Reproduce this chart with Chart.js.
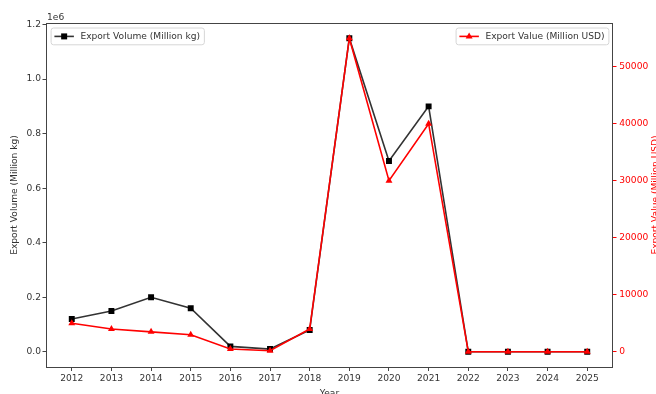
<!DOCTYPE html>
<html>
<head>
<meta charset="utf-8">
<script src="https://cdn.jsdelivr.net/npm/chart.js@4/dist/chart.umd.min.js"></script>
<style>
  html, body { margin: 0; padding: 0; background: #fff; }
  #wrap { width: 656px; height: 394px; }
</style>
</head>
<body>
<div id="wrap"><canvas id="chart" width="656" height="394"></canvas></div>
<script>
// Yearly export figures
const years = [2012, 2013, 2014, 2015, 2016, 2017, 2018, 2019, 2020, 2021, 2022, 2023, 2024, 2025];
const exportVolume = [120000, 150000, 200000, 160000, 20000, 10000, 80000, 1150000, 700000, 900000, 0, 0, 0, 0]; // million kg
const exportValue = [5000, 4000, 3500, 3000, 500, 200, 4000, 55000, 30000, 40000, 0, 0, 0, 0]; // million USD

// Axis tick values
const volumeTicks = [0, 200000, 400000, 600000, 800000, 1000000, 1200000];
const valueTicks = [0, 10000, 20000, 30000, 40000, 50000];

const volumeLabel = 'Export Volume (Million kg)';
const valueLabel = 'Export Value (Million USD)';

const FONT = 'DejaVu Sans';
const FS = 9.1;
const TEXT = '#333';
const RED = '#ff0000';

Chart.defaults.font.family = FONT;
Chart.defaults.font.size = FS;
Chart.defaults.color = TEXT;

// pad the data range by 5% on each side
function padded(values) {
  const lo = Math.min(...values), hi = Math.max(...values);
  const m = (hi - lo) * 0.05;
  return { min: lo - m, max: hi + m };
}
const xr = padded(years);
const vr = padded(exportVolume);
const er = padded(exportValue);

function drawMarker(ctx, style, x, y, color) {
  ctx.save();
  ctx.fillStyle = color;
  ctx.beginPath();
  if (style === 'rect') {
    ctx.rect(x - 3, y - 3, 6, 6);
  } else {
    ctx.moveTo(x, y - 4);
    ctx.lineTo(x + 3.5, y + 2);
    ctx.lineTo(x - 3.5, y + 2);
    ctx.closePath();
  }
  ctx.fill();
  ctx.restore();
}

function roundRect(ctx, x, y, w, h, r) {
  ctx.beginPath();
  ctx.moveTo(x + r, y);
  ctx.lineTo(x + w - r, y);
  ctx.arcTo(x + w, y, x + w, y + r, r);
  ctx.lineTo(x + w, y + h - r);
  ctx.arcTo(x + w, y + h, x + w - r, y + h, r);
  ctx.lineTo(x + r, y + h);
  ctx.arcTo(x, y + h, x, y + h - r, r);
  ctx.lineTo(x, y + r);
  ctx.arcTo(x, y, x + r, y, r);
  ctx.closePath();
}

// one legend entry in a box, anchored to the left or right top corner
function drawLegend(ctx, area, side, text, lineColor, markerColor, style) {
  ctx.save();
  ctx.font = FS + 'px "' + FONT + '"';
  const tw = ctx.measureText(text).width;
  const inner = 3.8, handle = 19.5, gap = 6.5, h = 16.8;
  const w = inner + handle + gap + tw + inner;
  const top = area.top + 5;
  const left = side === 'left' ? area.left + 4.6 : area.right - 4.6 - w;
  roundRect(ctx, left + 0.5, top + 0.5, w, h, 2.5);
  ctx.fillStyle = 'rgba(255,255,255,0.85)';
  ctx.fill();
  ctx.strokeStyle = '#d6d6d6';
  ctx.lineWidth = 1;
  ctx.stroke();
  const cy = top + h / 2 + 0.5;
  const hx = left + inner;
  ctx.strokeStyle = lineColor;
  ctx.lineWidth = 1.6;
  ctx.beginPath();
  ctx.moveTo(hx, cy);
  ctx.lineTo(hx + handle, cy);
  ctx.stroke();
  drawMarker(ctx, style, hx + handle / 2, cy, markerColor);
  ctx.fillStyle = TEXT;
  ctx.textBaseline = 'middle';
  ctx.textAlign = 'left';
  ctx.fillText(text, hx + handle + gap, cy);
  ctx.restore();
}

const decorations = {
  id: 'decorations',
  afterDraw(chart) {
    const ctx = chart.ctx;
    const a = chart.chartArea;
    // axes frame
    ctx.save();
    ctx.strokeStyle = '#444';
    ctx.lineWidth = 1;
    ctx.strokeRect(Math.round(a.left) + 0.5, Math.round(a.top) + 0.5,
                   Math.round(a.right - a.left) - 1, Math.round(a.bottom - a.top) - 1);
    ctx.restore();

    drawLegend(ctx, a, 'left', volumeLabel, 'rgba(0,0,0,0.8)', '#000', 'rect');
    drawLegend(ctx, a, 'right', valueLabel, RED, RED, 'triangle');

    ctx.save();
    ctx.font = FS + 'px "' + FONT + '"';
    // scale factor of the volume axis
    ctx.fillStyle = TEXT;
    ctx.textAlign = 'left';
    ctx.textBaseline = 'alphabetic';
    ctx.fillText('1e6', a.left + 1, a.top - 3);
    // right axis title
    ctx.fillStyle = RED;
    ctx.translate(655.5, (a.top + a.bottom) / 2);
    ctx.rotate(-Math.PI / 2);
    ctx.textAlign = 'center';
    ctx.textBaseline = 'middle';
    ctx.fillText(valueLabel, 0, 0);
    ctx.restore();
  }
};

new Chart(document.getElementById('chart'), {
  type: 'line',
  data: {
    datasets: [
      {
        label: volumeLabel,
        data: years.map((y, i) => ({ x: y, y: exportVolume[i] })),
        yAxisID: 'y',
        borderColor: 'rgba(0,0,0,0.8)',
        backgroundColor: '#000',
        pointBackgroundColor: '#000',
        pointBorderWidth: 0,
        pointStyle: 'rect',
        pointRadius: 4.2,
        borderWidth: 1.6,
        tension: 0,
        order: 1
      },
      {
        label: valueLabel,
        data: years.map((y, i) => ({ x: y, y: exportValue[i] })),
        yAxisID: 'y1',
        borderColor: RED,
        backgroundColor: RED,
        pointBackgroundColor: RED,
        pointBorderWidth: 0,
        pointStyle: 'triangle',
        pointRadius: 4,
        borderWidth: 1.6,
        tension: 0,
        order: 0
      }
    ]
  },
  options: {
    responsive: false,
    animation: false,
    events: [],
    layout: { padding: { top: 22.5, left: 0, right: 0, bottom: 0 } },
    plugins: {
      legend: { display: false },
      tooltip: { enabled: false }
    },
    scales: {
      x: {
        type: 'linear',
        position: 'bottom',
        min: xr.min,
        max: xr.max,
        afterBuildTicks: s => { s.ticks = years.map(v => ({ value: v })); },
        afterFit: s => { s.height = 26.5; },
        ticks: { color: TEXT, padding: 2, maxRotation: 0, autoSkip: false, callback: v => String(v) },
        grid: { drawOnChartArea: false, drawTicks: true, tickLength: 3.5, tickColor: '#444', tickWidth: 1 },
        border: { display: false },
        title: { display: true, text: 'Year', color: TEXT, font: { size: FS }, padding: { top: 0, bottom: -5 } }
      },
      y: {
        type: 'linear',
        position: 'left',
        min: vr.min,
        max: vr.max,
        afterBuildTicks: s => { s.ticks = volumeTicks.map(v => ({ value: v })); },
        afterFit: s => { s.width = 46; },
        ticks: { color: TEXT, padding: 1.5, callback: v => (v / 1e6).toFixed(1) },
        grid: { drawOnChartArea: false, drawTicks: true, tickLength: 3.5, tickColor: '#444', tickWidth: 1 },
        border: { display: false },
        title: { display: true, text: volumeLabel, color: TEXT, font: { size: FS }, padding: { top: 9.5, bottom: 0 } }
      },
      y1: {
        type: 'linear',
        position: 'right',
        min: er.min,
        max: er.max,
        afterBuildTicks: s => { s.ticks = valueTicks.map(v => ({ value: v })); },
        afterFit: s => { s.width = 43; },
        ticks: { color: RED, padding: 2.8, callback: v => String(v) },
        grid: { drawOnChartArea: false, drawTicks: true, tickLength: 3.5, tickColor: RED, tickWidth: 1 },
        border: { display: false },
        title: { display: false }
      }
    }
  },
  plugins: [decorations]
});
</script>
</body>
</html>
